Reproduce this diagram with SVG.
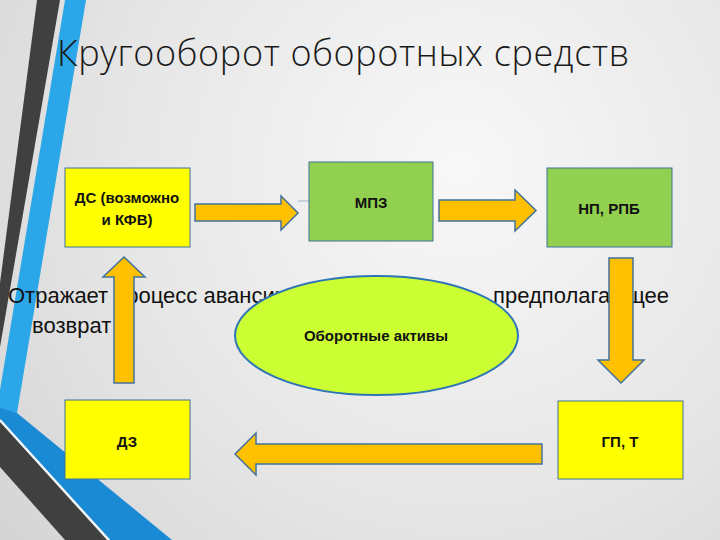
<svg xmlns="http://www.w3.org/2000/svg" width="720" height="540" viewBox="0 0 720 540">
  <defs>
    <radialGradient id="bg" cx="460" cy="170" r="620" gradientUnits="userSpaceOnUse">
      <stop offset="0" stop-color="#f8f8f8"/>
      <stop offset="0.55" stop-color="#e6e6e6"/>
      <stop offset="1" stop-color="#d2d2d2"/>
    </radialGradient>
  </defs>
  <style>
    .box-y { fill: #ffff00; stroke: #41719c; stroke-width: 1; }
    .box-g { fill: #92d050; stroke: #41719c; stroke-width: 1; }
    .arrow { fill: #ffc000; stroke: #41719c; stroke-width: 1.5; stroke-linejoin: miter; }
    .lbl { font-family: "Liberation Sans", Arial, sans-serif; font-weight: bold; font-size: 15px; fill: #111; text-anchor: middle; }
    .para { font-family: "Liberation Sans", Arial, sans-serif; font-size: 22px; fill: #111; }
    .title { font-family: "Open Sans", "Liberation Sans", sans-serif; font-weight: 300; font-size: 36px; fill: #1a1a1a; }
  </style>

  <!-- background -->
  <rect width="720" height="540" fill="url(#bg)"/>

  <!-- left decoration -->
  <g id="decoration">
    <polygon points="37,0 60,0 0,347 0,283" fill="#404040"/>
    <polygon points="65,0 86,0 17,413 0,413 0,390" fill="#2ba6e9"/>
    <polygon points="0,408 17,413 172,540 110,540 0,420" fill="#1a8ad4"/>
    <polygon points="0,422 107,540 65,540 0,467" fill="#404040"/>
    <line x1="0" y1="420" x2="109" y2="540" stroke="#f4f8fb" stroke-width="2"/>
  </g>

  <!-- title -->
  <text class="title" x="57" y="66" textLength="572" lengthAdjust="spacing">Кругооборот оборотных  средств</text>

  <!-- paragraph text (partially hidden behind the shapes) -->
  <text class="para" x="8" y="303">Отражает процесс авансирования</text>
  <text class="para" x="493" y="303">предполагающее</text>
  <text class="para" x="32" y="333">возврат</text>

  <!-- connectors -->
  <g id="connectors">
    <line x1="298" y1="201" x2="309" y2="201" stroke="#9fb4c8" stroke-width="1"/>
    <path id="arrow-ds-mpz" class="arrow" d="M195,204 H281 V196 L298,213 L281,230 V221 H195 Z"/>
    <path id="arrow-mpz-np" class="arrow" d="M439,200 H515 V190 L536,210.5 L515,231 V221 H439 Z"/>
    <path id="arrow-np-gp" class="arrow" d="M609,258 H633 V360 H644 L621,383 L598,360 H609 Z"/>
    <path id="arrow-gp-dz" class="arrow" d="M542,444 V464 H256 V475 L235,454 L256,433 V444 Z"/>
    <path id="arrow-dz-ds" class="arrow" d="M114,383 V277 H103 L124,257 L145,277 H134 V383 Z"/>
  </g>

  <!-- nodes -->
  <g id="node-ds">
    <rect class="box-y" x="65" y="168" width="125" height="79"/>
    <text class="lbl" x="127" y="203">ДС (возможно</text>
    <text class="lbl" x="127" y="225">и КФВ)</text>
  </g>
  <g id="node-mpz">
    <rect class="box-g" x="309" y="162" width="124" height="79"/>
    <text class="lbl" x="371" y="208">МПЗ</text>
  </g>
  <g id="node-np">
    <rect class="box-g" x="547" y="168" width="125" height="79"/>
    <text class="lbl" x="609" y="214">НП, РПБ</text>
  </g>
  <g id="node-gp">
    <rect class="box-y" x="558" y="401" width="125" height="78"/>
    <text class="lbl" x="620" y="447">ГП, Т</text>
  </g>
  <g id="node-dz">
    <rect class="box-y" x="65" y="400" width="125" height="79"/>
    <text class="lbl" x="127" y="447">ДЗ</text>
  </g>
  <g id="node-oa">
    <ellipse cx="376.5" cy="335.5" rx="141.5" ry="59.5" fill="#ccff33" stroke="#2e75b6" stroke-width="2"/>
    <text class="lbl" x="376" y="341">Оборотные активы</text>
  </g>
</svg>
